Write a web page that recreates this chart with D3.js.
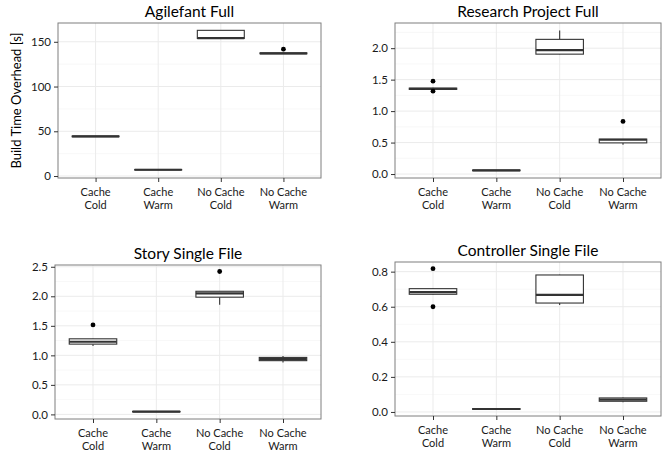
<!DOCTYPE html>
<html>
<head>
<meta charset="utf-8">
<script src="https://cdn.jsdelivr.net/npm/d3@7/dist/d3.min.js"></script>
<style>
  body { margin: 0; background: #fff; }
  svg { display: block; }
  text { font-family: Lato, "Open Sans", sans-serif; }
</style>
</head>
<body>
<svg id="chart" width="672" height="453"></svg>
<script>
// ---- Data ----
const categories = ["Cache\nCold", "Cache\nWarm", "No Cache\nCold", "No Cache\nWarm"];
const panelTitles = ["Agilefant Full", "Research Project Full", "Story Single File", "Controller Single File"];
const yAxisTitle = "Build Time Overhead [s]";

// box stats per category: [lowerWhisker, q1, median, q3, upperWhisker]
const agilefantStats = [[43.8, 43.9, 44.3, 44.7, 44.8], [6.6, 6.7, 7.0, 7.3, 7.4], [153.5, 153.8, 154.2, 162.8, 162.9], [136.4, 136.6, 137.1, 137.6, 137.8]];
const agilefantOutliers = [[], [], [], [141.7]];
const agilefantTicks = [0, 50, 100, 150];
const agilefantDomain = [-2.2, 171];

const researchStats = [[1.34, 1.345, 1.355, 1.365, 1.37], [0.05, 0.053, 0.058, 0.063, 0.066], [1.9, 1.905, 1.97, 2.14, 2.28], [0.466, 0.495, 0.545, 0.555, 0.556]];
const researchOutliers = [[1.476, 1.317], [], [], [0.836]];
const researchTicks = [0.0, 0.5, 1.0, 1.5, 2.0];
const researchDomain = [-0.063, 2.40];

const storyStats = [[1.16, 1.19, 1.23, 1.28, 1.285], [0.04, 0.043, 0.046, 0.05, 0.052], [1.855, 1.985, 2.05, 2.085, 2.09], [0.88, 0.91, 0.935, 0.965, 0.99]];
const storyOutliers = [[1.515], [], [2.42], []];
const storyTicks = [0.0, 0.5, 1.0, 1.5, 2.0, 2.5];
const storyDomain = [-0.078, 2.53];

const controllerStats = [[0.668, 0.671, 0.683, 0.703, 0.705], [0.014, 0.015, 0.017, 0.019, 0.02], [0.61, 0.621, 0.667, 0.781, 0.782], [0.056, 0.061, 0.07, 0.08, 0.082]];
const controllerOutliers = [[0.817, 0.600], [], [], []];
const controllerTicks = [0.0, 0.2, 0.4, 0.6, 0.8];
const controllerDomain = [-0.023, 0.855];

// ---- Layout ----
const panels = [
  { title: panelTitles[0], stats: agilefantStats, outliers: agilefantOutliers, ticks: agilefantTicks, domain: agilefantDomain, fmt: d3.format("d"), x0: 58, x1: 321, y0: 23, y1: 178, showYTitle: true },
  { title: panelTitles[1], stats: researchStats, outliers: researchOutliers, ticks: researchTicks, domain: researchDomain, fmt: d3.format(".1f"), x0: 395, x1: 661, y0: 23, y1: 178 },
  { title: panelTitles[2], stats: storyStats, outliers: storyOutliers, ticks: storyTicks, domain: storyDomain, fmt: d3.format(".1f"), x0: 55, x1: 321, y0: 265, y1: 419 },
  { title: panelTitles[3], stats: controllerStats, outliers: controllerOutliers, ticks: controllerTicks, domain: controllerDomain, fmt: d3.format(".1f"), x0: 395, x1: 661, y0: 262, y1: 416 }
];

const svg = d3.select("#chart");
const boxColor = "#333333";
const fontFam = 'Lato, "Open Sans", sans-serif';

panels.forEach(p => {
  const g = svg.append("g");
  const x = d3.scalePoint().domain(categories).range([p.x0, p.x1]).padding(0.6);
  const step = x.step();
  const y = d3.scaleLinear().domain(p.domain).range([p.y1, p.y0]);

  g.append("rect").attr("x", p.x0).attr("y", p.y0).attr("width", p.x1 - p.x0).attr("height", p.y1 - p.y0).attr("fill", "#fff");

  // minor grid
  const minor = [];
  for (let i = 0; i < p.ticks.length - 1; i++) minor.push((p.ticks[i] + p.ticks[i + 1]) / 2);
  const tstep = p.ticks[1] - p.ticks[0];
  minor.push(p.ticks[p.ticks.length - 1] + tstep / 2);
  minor.push(p.ticks[0] - tstep / 2);
  g.selectAll(".minor").data(minor.filter(v => v > p.domain[0] && v < p.domain[1])).enter().append("line")
    .attr("x1", p.x0).attr("x2", p.x1).attr("y1", d => y(d)).attr("y2", d => y(d))
    .attr("stroke", "#f5f5f5").attr("stroke-width", 0.7);
  // major grid
  g.selectAll(".major").data(p.ticks).enter().append("line")
    .attr("x1", p.x0).attr("x2", p.x1).attr("y1", d => y(d)).attr("y2", d => y(d))
    .attr("stroke", "#ebebeb").attr("stroke-width", 1);
  g.selectAll(".vmajor").data(categories).enter().append("line")
    .attr("x1", d => x(d)).attr("x2", d => x(d)).attr("y1", p.y0).attr("y2", p.y1)
    .attr("stroke", "#ebebeb").attr("stroke-width", 1);

  // boxes
  const bw = step * 0.75;
  categories.forEach((c, i) => {
    const s = p.stats[i];
    const cx = x(c);
    g.append("line").attr("x1", cx).attr("x2", cx).attr("y1", y(s[0])).attr("y2", y(s[1]))
      .attr("stroke", boxColor).attr("stroke-width", 1.1);
    g.append("line").attr("x1", cx).attr("x2", cx).attr("y1", y(s[3])).attr("y2", y(s[4]))
      .attr("stroke", boxColor).attr("stroke-width", 1.1);
    g.append("rect").attr("x", cx - bw / 2).attr("width", bw)
      .attr("y", y(s[3])).attr("height", Math.max(0, y(s[1]) - y(s[3])))
      .attr("fill", "#fff").attr("stroke", boxColor).attr("stroke-width", 1.1);
    g.append("line").attr("x1", cx - bw / 2).attr("x2", cx + bw / 2).attr("y1", y(s[2])).attr("y2", y(s[2]))
      .attr("stroke", boxColor).attr("stroke-width", 2.2);
    g.selectAll(null).data(p.outliers[i]).enter().append("circle")
      .attr("cx", cx).attr("cy", d => y(d)).attr("r", 2.4).attr("fill", "#000");
  });

  // border
  g.append("rect").attr("x", p.x0).attr("y", p.y0).attr("width", p.x1 - p.x0).attr("height", p.y1 - p.y0)
    .attr("fill", "none").attr("stroke", "#7f7f7f").attr("stroke-width", 1);

  // y axis
  const ya = g.append("g").attr("transform", `translate(${p.x0},0)`)
    .call(d3.axisLeft(y).tickValues(p.ticks).tickFormat(p.fmt).tickSize(4).tickPadding(3));
  ya.select(".domain").remove();
  ya.selectAll(".tick line").attr("stroke", "#333").attr("stroke-width", 1);
  ya.selectAll(".tick text").attr("fill", "#1a1a1a").style("font-size", "11.5px").style("font-family", fontFam);

  // x axis
  const xa = g.append("g").attr("transform", `translate(0,${p.y1})`)
    .call(d3.axisBottom(x).tickSize(4).tickFormat(""));
  xa.select(".domain").remove();
  xa.selectAll(".tick line").attr("stroke", "#333").attr("stroke-width", 1);
  categories.forEach(c => {
    const lines = c.split("\n");
    const t = g.append("text").attr("text-anchor", "middle").attr("fill", "#1a1a1a")
      .style("font-size", "11px").style("font-family", fontFam);
    lines.forEach((ln, k) => {
      t.append("tspan").attr("x", x(c)).attr("y", p.y1 + 17.5 + k * 13.3).text(ln);
    });
  });

  // title
  g.append("text").attr("x", (p.x0 + p.x1) / 2).attr("y", p.y0 - 6).attr("text-anchor", "middle")
    .attr("fill", "#000").style("font-size", "15.5px").style("font-family", fontFam).text(p.title);

  if (p.showYTitle) {
    g.append("text").attr("transform", `translate(21,${(p.y0 + p.y1) / 2}) rotate(-90)`)
      .attr("text-anchor", "middle").attr("fill", "#000").style("font-size", "13px").style("font-family", fontFam).text(yAxisTitle);
  }
});
</script>
</body>
</html>
